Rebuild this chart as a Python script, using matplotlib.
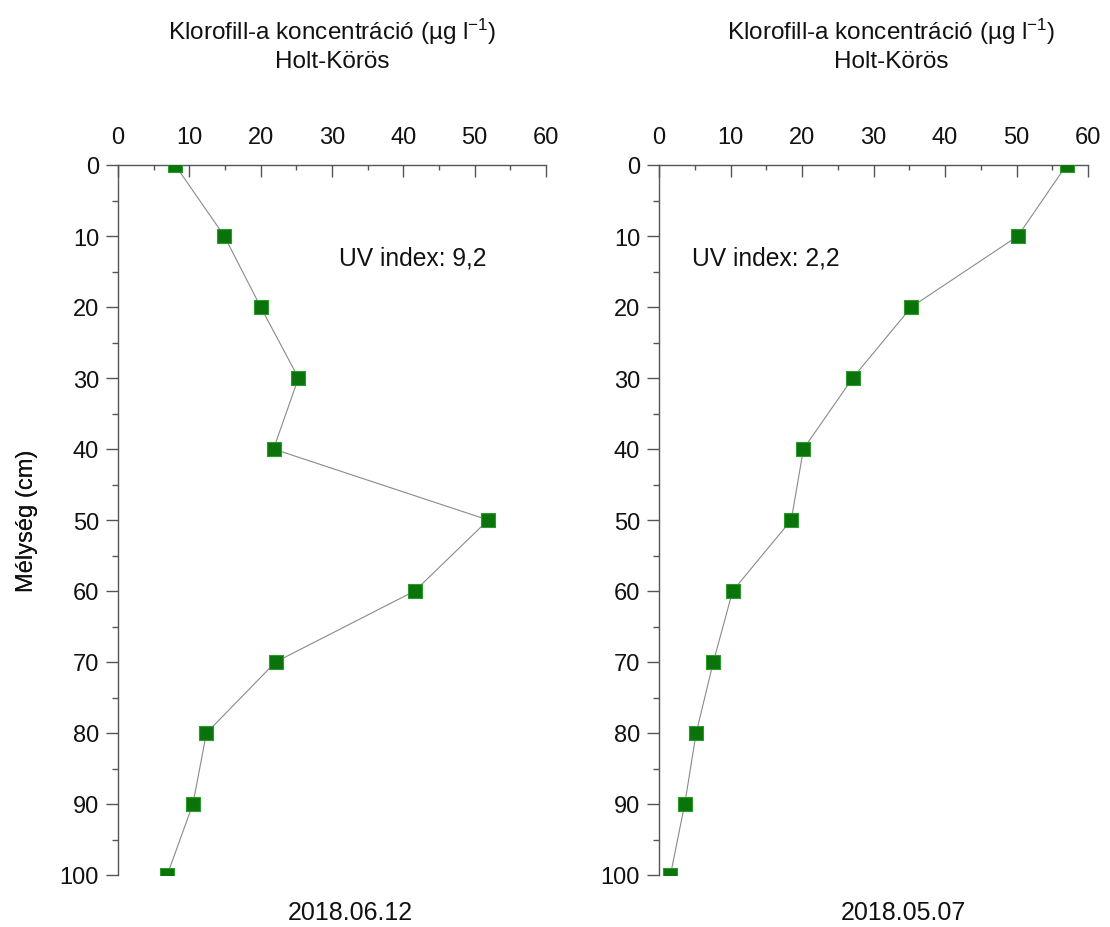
import matplotlib
matplotlib.use('Agg')
import matplotlib.pyplot as plt
from matplotlib.ticker import MultipleLocator

plt.rcParams['font.family'] = ['Liberation Sans', 'DejaVu Sans']
plt.rcParams['mathtext.fontset'] = 'custom'
plt.rcParams['mathtext.rm'] = 'Liberation Sans'
plt.rcParams['mathtext.it'] = 'Liberation Sans:italic'

# depth (cm) and chlorophyll-a (ug/l) read from the two profiles
depth = [0, 10, 20, 30, 40, 50, 60, 70, 80, 90, 100]
chl_0612 = [8.0, 14.9, 20.0, 25.3, 21.8, 51.9, 41.6, 22.1, 12.4, 10.5, 6.9]
chl_0507 = [57.0, 50.2, 35.3, 27.1, 20.2, 18.5, 10.3, 7.6, 5.2, 3.6, 1.6]

dates = ['2018.06.12', '2018.05.07']
uv_labels = ['UV index: 9,2', 'UV index: 2,2']
uv_pos = [(31, 13), (4.6, 13)]
title = 'Klorofill-a koncentráció (µg l$^{-1}$)\nHolt-Körös'

W, H = 1110, 928
fig = plt.figure(figsize=(W / 100, H / 100), dpi=100)

# axes boxes in pixels: left, right, top, bottom
boxes = [(118, 546, 166, 876), (659, 1088, 166, 876)]
title_x = [332, 891]
date_x = [350, 903]

spine_col = '#555555'

for i, (l, r, t, b) in enumerate(boxes):
    ax = fig.add_axes([l / W, 1 - b / H, (r - l) / W, (b - t) / H])
    vals = [chl_0612, chl_0507][i]
    ax.plot(vals, depth, '-', color='#8a8a8a', lw=0.8, zorder=2)
    # scatter so the end squares get cut at the axes edge like the original
    ax.scatter(vals, depth, s=88, marker='s', c='#0b730b', edgecolors='#2a9a2a',
               linewidths=0.8, zorder=3)

    ax.set_xlim(0, 60)
    ax.set_ylim(100, 0)
    ax.xaxis.tick_top()
    ax.xaxis.set_major_locator(MultipleLocator(10))
    ax.xaxis.set_minor_locator(MultipleLocator(5))
    ax.yaxis.set_major_locator(MultipleLocator(10))
    ax.yaxis.set_minor_locator(MultipleLocator(5))

    for s in ['bottom', 'right']:
        ax.spines[s].set_visible(False)
    for s in ['top', 'left']:
        ax.spines[s].set_color(spine_col)
        ax.spines[s].set_linewidth(1.0)

    ax.tick_params(axis='x', which='major', direction='in', length=8.6, width=1.0,
                   pad=12, labelsize=17, colors=spine_col, labelcolor='#111111')
    ax.tick_params(axis='x', which='minor', direction='in', length=3.8, width=1.0,
                   colors=spine_col)
    ax.tick_params(axis='y', which='major', direction='out', length=8.6, width=1.0,
                   pad=5, labelsize=17, colors=spine_col, labelcolor='#111111')
    ax.tick_params(axis='y', which='minor', direction='out', length=4.3, width=1.0,
                   colors=spine_col)

    ax.set_ylabel('Mélység (cm)', fontsize=17, color='#111111')
    ax.yaxis.set_label_coords((38 - l) / (r - l), 0.5)

    ax.text(uv_pos[i][0], uv_pos[i][1], uv_labels[i], fontsize=17.7,
            ha='left', va='center', color='#111111')

    fig.text(title_x[i] / W, 1 - 45 / H, title, fontsize=17.5, ha='center',
             va='center', linespacing=1.25, color='#111111')
    fig.text(date_x[i] / W, 1 - 913 / H, dates[i], fontsize=18, ha='center',
             va='center', color='#111111')

fig.savefig('out.png', dpi=100)
